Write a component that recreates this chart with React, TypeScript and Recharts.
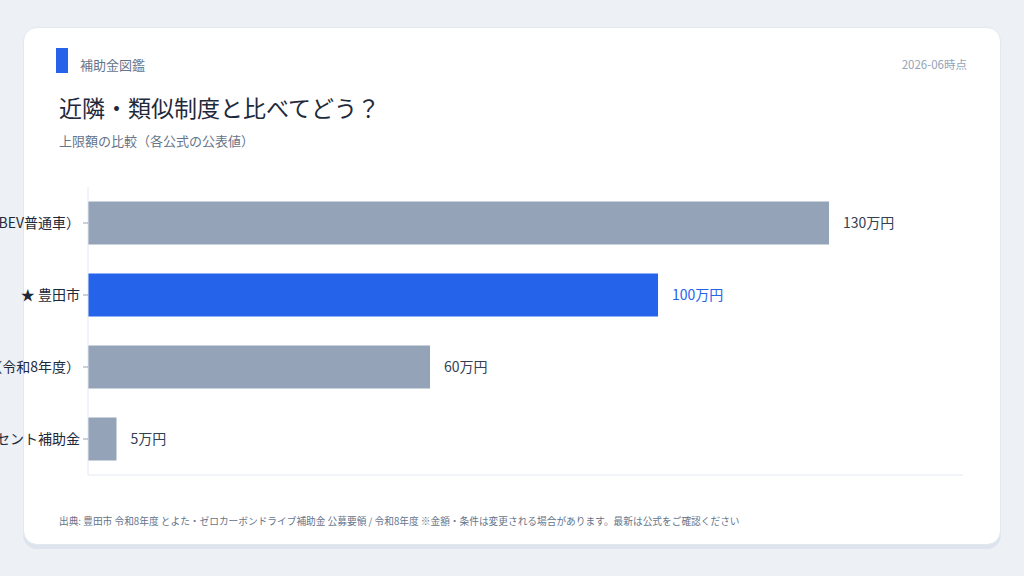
import { BarChart, Bar, XAxis, YAxis, Cell, LabelList } from "recharts";

const categories = [
    "国CEV補助金（BEV普通車）",
    "★ 豊田市",
    "愛知県（令和8年度）",
    "岡崎市充電コンセント補助金",
];
const amounts = [130, 100, 60, 5];
const highlight = "★ 豊田市";

const data = categories.map((name, i) => ({ name, value: amounts[i] }));

const FONT = "'Noto Sans CJK JP', 'Noto Sans', sans-serif";
const GRAY = "#94a3b8";
const BLUE = "#2563eb";

function ValueLabel(props: any) {
    const { x, y, width, height, value, index } = props;
    const isMain = categories[index] === highlight;
    return (
        <text
            x={x + width + 14}
            y={y + height / 2}
            dy={5}
            fontSize={14}
            fontFamily={FONT}
            fill={isMain ? BLUE : "#334155"}
        >
            {value}万円
        </text>
    );
}

function CategoryTick(props: any) {
    const { x, y, payload } = props;
    return (
        <text x={x} y={y} dy={5} textAnchor="end" fontSize={14} fontFamily={FONT} fill="#1e293b">
            {payload.value}
        </text>
    );
}

export default function App() {
    return (
        <div
            style={{
                position: "absolute",
                left: 0,
                top: 0,
                width: 1024,
                height: 576,
                background: "#edf1f6",
                fontFamily: FONT,
                overflow: "hidden",
            }}
        >
            <div
                style={{
                    position: "absolute",
                    left: 23,
                    top: 27,
                    width: 976,
                    height: 516,
                    background: "#ffffff",
                    border: "1px solid #e2e8f0",
                    borderRadius: 14,
                    boxShadow: "0 4px 0 #dde4ed",
                }}
            />
            <div style={{ position: "absolute", left: 56, top: 48, width: 12, height: 25, background: BLUE }} />
            <div style={{ position: "absolute", left: 80, top: 55, fontSize: 13, color: "#64748b" }}>補助金図鑑</div>
            <div style={{ position: "absolute", right: 57, top: 56, fontSize: 11.5, color: "#94a3b8" }}>2026-06時点</div>
            <div style={{ position: "absolute", left: 59, top: 90, fontSize: 23, color: "#1e293b" }}>
                近隣・類似制度と比べてどう？
            </div>
            <div style={{ position: "absolute", left: 59, top: 131, fontSize: 13, color: "#64748b" }}>
                上限額の比較（各公式の公表値）
            </div>
            <div style={{ position: "absolute", left: 59, top: 514, fontSize: 9.7, color: "#64748b", whiteSpace: "nowrap" }}>
                出典: 豊田市 令和8年度 とよた・ゼロカーボンドライブ補助金 公募要領 / 令和8年度 ※金額・条件は変更される場合があります。最新は公式をご確認ください
            </div>
            <div style={{ position: "absolute", left: 0, top: 180 }}>
                <BarChart
                    width={1000}
                    height={300}
                    data={data}
                    layout="vertical"
                    margin={{ top: 7, right: 37, bottom: 4, left: 0 }}
                    barCategoryGap="20%"
                >
                    <XAxis
                        type="number"
                        domain={[0, 153.5]}
                        tick={false}
                        tickLine={false}
                        axisLine={{ stroke: "#e2e8f0" }}
                        height={1}
                    />
                    <YAxis
                        type="category"
                        dataKey="name"
                        width={88}
                        axisLine={{ stroke: "#e2e8f0" }}
                        tickLine={{ stroke: GRAY }}
                        tickSize={5}
                        tickMargin={3}
                        tick={<CategoryTick />}
                        interval={0}
                    />
                    <Bar dataKey="value" isAnimationActive={false}>
                        {data.map((d, i) => (
                            <Cell key={i} fill={d.name === highlight ? BLUE : GRAY} />
                        ))}
                        <LabelList dataKey="value" content={<ValueLabel />} />
                    </Bar>
                </BarChart>
            </div>
        </div>
    );
}
